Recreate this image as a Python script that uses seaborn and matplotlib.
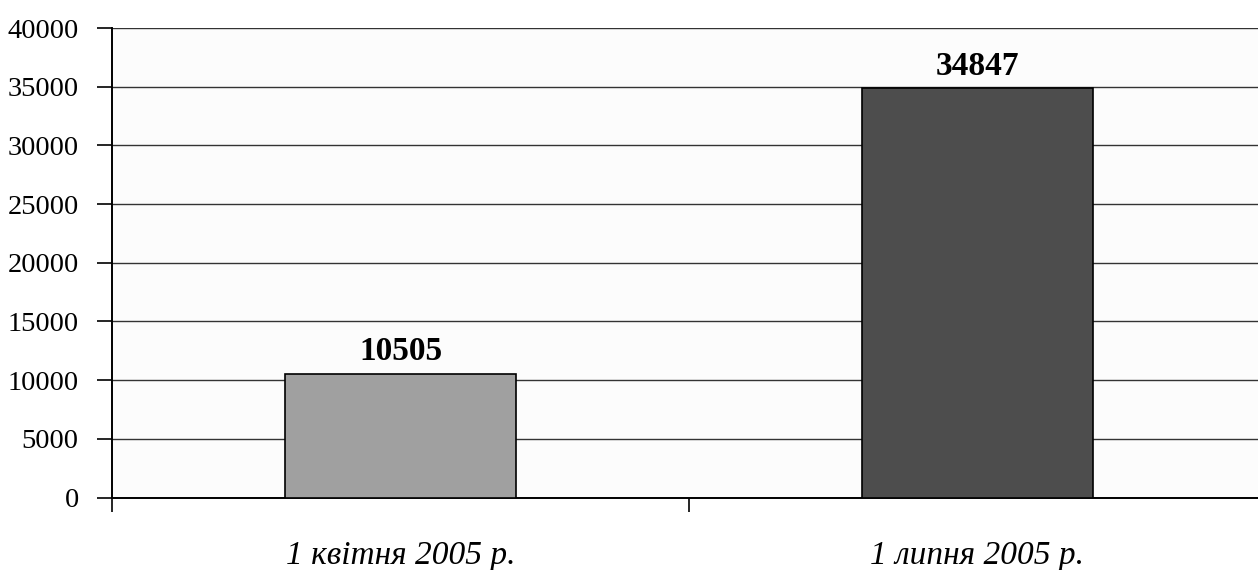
import matplotlib
matplotlib.use("Agg")
import matplotlib.pyplot as plt
import seaborn as sns
import pandas as pd

categories = ["1 квітня 2005 р.", "1 липня 2005 р."]
values = [10505, 34847]
bar_colors = ["#a0a0a0", "#4d4d4d"]
yticks = [0, 5000, 10000, 15000, 20000, 25000, 30000, 35000, 40000]

sns.set_theme(style="white")
plt.rcParams["font.family"] = ["Liberation Serif", "DejaVu Serif"]
plt.rcParams["text.color"] = "black"
plt.rcParams["xtick.color"] = "black"
plt.rcParams["ytick.color"] = "black"

df = pd.DataFrame({"date": categories, "count": values})

fig = plt.figure(figsize=(12.58, 5.70), dpi=100)
# the plot area runs slightly past the right edge of the figure
ax = fig.add_axes([112 / 1258, (570 - 497.5) / 570, 1154 / 1258, (497.5 - 28) / 570])
ax.set_facecolor("#fcfcfc")

sns.barplot(data=df, x="date", y="count", hue="date", palette=bar_colors,
            width=0.4, edgecolor="black", linewidth=1.2, legend=False, ax=ax, zorder=3)

ax.set_xlim(-0.5, 1.5)
ax.set_ylim(0, 40000)
ax.set_yticks(yticks)
ax.set_yticklabels([str(t) for t in yticks], fontsize=20.5, color="black")
ax.yaxis.grid(True, color="#333333", linewidth=1.0, zorder=0)
ax.set_axisbelow(True)

ax.set_xticks([0, 1])
ax.set_xticklabels(categories, fontsize=24, style="italic", color="black")
ax.set_xticks([-0.5, 0.5, 1.5], minor=True)
ax.tick_params(axis="x", which="major", length=0, pad=31)
ax.tick_params(axis="x", which="minor", length=10, width=1.2, color="black", bottom=True)
ax.tick_params(axis="y", which="major", length=11, width=1.2, color="black", left=True, pad=13)

for side in ["top", "right"]:
    ax.spines[side].set_visible(False)
for side in ["left", "bottom"]:
    ax.spines[side].set_color("black")
    ax.spines[side].set_linewidth(1.4)

ax.set_xlabel("")
ax.set_ylabel("")

for cont in ax.containers:
    ax.bar_label(cont, fmt="%d", fontsize=24, fontweight="bold", padding=5, color="black")

fig.savefig("out.png", dpi=100)
